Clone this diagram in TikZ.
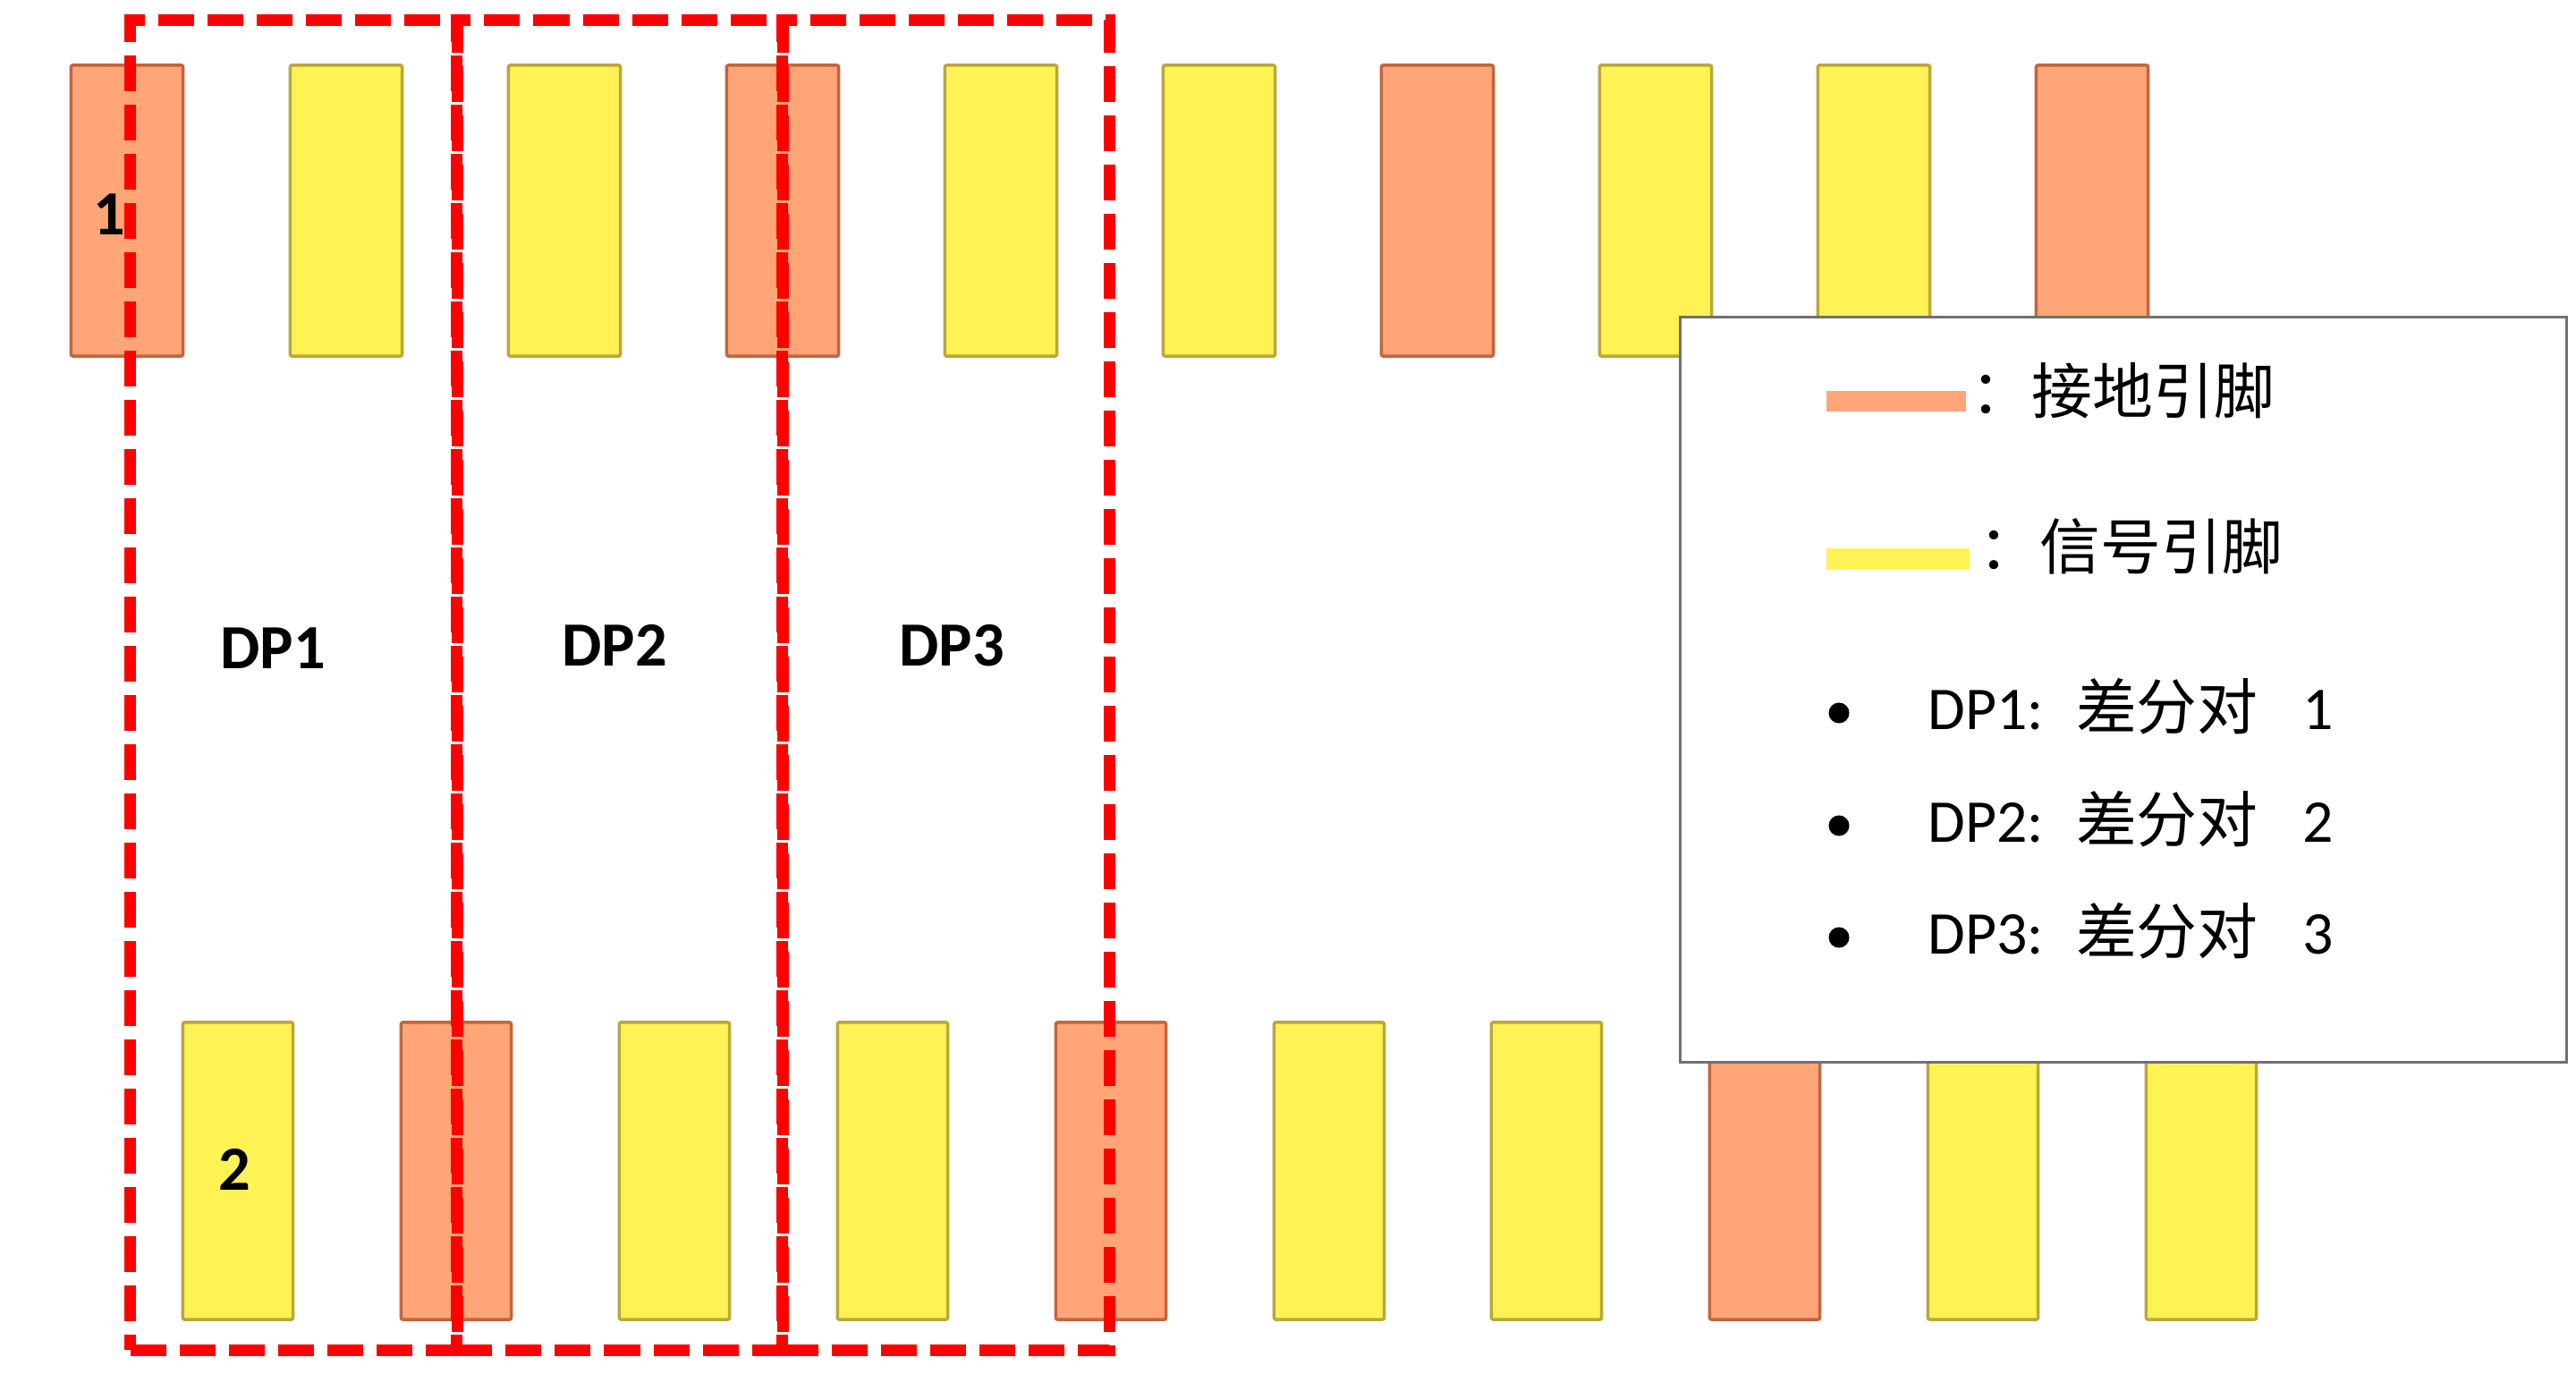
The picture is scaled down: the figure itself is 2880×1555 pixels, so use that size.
\documentclass[tikz,border=0pt]{standalone}
\usepackage{fontspec}
\setmainfont{Carlito}
\newfontfamily\cjk{Noto Sans CJK SC}
\usepackage{xcolor}
\usepackage{tikz}
\usetikzlibrary{positioning}
\definecolor{gndorange}{RGB}{255, 165, 119}
\definecolor{gndedge}{RGB}{196, 100, 62}
\definecolor{sigyellow}{RGB}{255, 242, 84}
\definecolor{sigedge}{RGB}{188, 166, 58}
\definecolor{pairred}{RGB}{255, 0, 0}
\definecolor{legendgray}{RGB}{112, 112, 112}

\begin{document}
\begin{tikzpicture}[
    x=0.01cm, y=-0.01cm,
    gndpin/.style={rectangle, rounded corners=0.02cm, draw=gndedge, fill=gndorange, line width=0.035cm, minimum width=1.25cm, inner sep=0pt},
    sigpin/.style={rectangle, rounded corners=0.02cm, draw=sigedge, fill=sigyellow, line width=0.035cm, minimum width=1.25cm, inner sep=0pt},
    toprow/.style={minimum height=3.25cm},
    botrow/.style={minimum height=3.32cm, minimum width=1.23cm},
    pairbox/.style={rectangle, draw=pairred, line width=0.13cm, dash pattern=on 0.4cm off 0.15cm, minimum width=3.65cm, minimum height=14.86cm, inner sep=0pt},
    pairlabel/.style={font=\fontsize{20}{22}\selectfont\bfseries, inner sep=0pt},
    legendtext/.style={font=\fontsize{19.3}{21}\selectfont\cjk, inner sep=0pt, anchor=west},
    itemtext/.style={font=\fontsize{19.3}{21}\selectfont, inner sep=0pt, anchor=base west},
    dot/.style={circle, fill=black, minimum size=0.23cm, inner sep=0pt}
]
\useasboundingbox (0,0) rectangle (2880,1555);

% Top row of pins
\node[gndpin, toprow] (t1) at (142,235.5) {};
\node[sigpin, toprow] (t2) at (387,235.5) {};
\node[sigpin, toprow] (t3) at (631,235.5) {};
\node[gndpin, toprow] (t4) at (875,235.5) {};
\node[sigpin, toprow] (t5) at (1119,235.5) {};
\node[sigpin, toprow] (t6) at (1363,235.5) {};
\node[gndpin, toprow] (t7) at (1607,235.5) {};
\node[sigpin, toprow] (t8) at (1851,235.5) {};
\node[sigpin, toprow] (t9) at (2095,235.5) {};
\node[gndpin, toprow] (t10) at (2339,235.5) {};

% Bottom row of pins
\node[sigpin, botrow] (b1) at (266,1309) {};
\node[gndpin, botrow] (b2) at (510,1309) {};
\node[sigpin, botrow] (b3) at (754,1309) {};
\node[sigpin, botrow] (b4) at (998,1309) {};
\node[gndpin, botrow] (b5) at (1242,1309) {};
\node[sigpin, botrow] (b6) at (1486,1309) {};
\node[sigpin, botrow] (b7) at (1729,1309) {};
\node[gndpin, botrow] (b8) at (1973,1309) {};
\node[sigpin, botrow] (b9) at (2217,1309) {};
\node[sigpin, botrow] (b10) at (2461,1309) {};

% Differential pairs
\node[pairbox] (dp1box) at (328.5,766) {};
\node[pairbox] (dp2box) at (693,766) {};
\node[pairbox] (dp3box) at (1057.5,766) {};
\node[pairlabel] (dp1) at (305,725) {DP1};
\node[pairlabel] (dp2) at (687,721) {DP2};
\node[pairlabel] (dp3) at (1064,722) {DP3};

% Pin numbers
\node[pairlabel] (pin1) at (122,240) {1};
\node[pairlabel] (pin2) at (262,1307) {2};

% Legend
\node[rectangle, draw=legendgray, fill=white, line width=0.03cm, minimum width=9.9cm, minimum height=8.32cm] (legend) at (2374,771) {};
\node[rectangle, fill=gndorange, minimum width=1.56cm, minimum height=0.23cm, inner sep=0pt] (gndkey) at (2120,448.5) {};
\node[rectangle, fill=sigyellow, minimum width=1.6cm, minimum height=0.24cm, inner sep=0pt] (sigkey) at (2122,625) {};
\node[legendtext] (gndtext) at (2203,437) {：接地引脚};
\node[legendtext] (sigtext) at (2212,611) {：信号引脚};
\node[dot] (dot1) at (2056,797) {};
\node[dot] (dot2) at (2056,923) {};
\node[dot] (dot3) at (2056,1048) {};
\node[itemtext] (item1) at (2155,816) {DP1:\hspace{0.36cm}{\cjk 差分对}\hspace{0.5cm}1};
\node[itemtext] (item2) at (2155,942) {DP2:\hspace{0.36cm}{\cjk 差分对}\hspace{0.5cm}2};
\node[itemtext] (item3) at (2155,1067) {DP3:\hspace{0.36cm}{\cjk 差分对}\hspace{0.5cm}3};
\end{tikzpicture}
\end{document}
